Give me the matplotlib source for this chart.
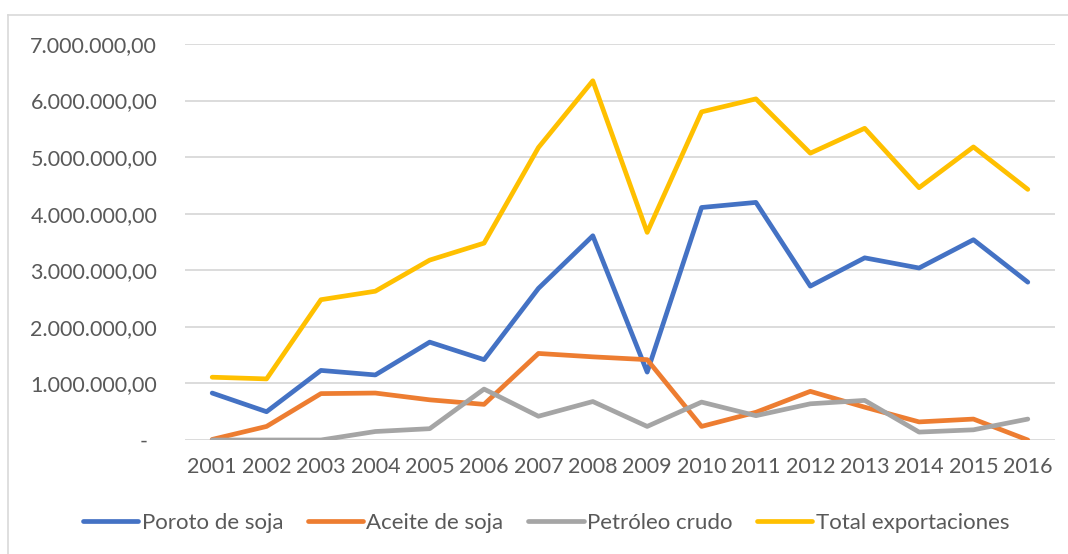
import matplotlib
matplotlib.use("Agg")
import matplotlib.pyplot as plt
from matplotlib.lines import Line2D
from matplotlib.transforms import ScaledTranslation

years = ["2001", "2002", "2003", "2004", "2005", "2006", "2007", "2008",
         "2009", "2010", "2011", "2012", "2013", "2014", "2015", "2016"]

poroto_soja = [830000, 500000, 1230000, 1150000, 1730000, 1420000, 2680000, 3610000,
               1200000, 4110000, 4200000, 2720000, 3220000, 3040000, 3540000, 2790000]
aceite_soja = [10000, 240000, 820000, 830000, 710000, 630000, 1530000, 1470000,
               1420000, 240000, 490000, 860000, 580000, 320000, 370000, 0]
petroleo_crudo = [0, 0, 0, 150000, 200000, 900000, 420000, 680000,
                  240000, 670000, 430000, 640000, 700000, 140000, 180000, 370000]
total_export = [1110000, 1080000, 2480000, 2630000, 3180000, 3480000, 5170000, 6350000,
                3670000, 5800000, 6030000, 5070000, 5510000, 4460000, 5180000, 4430000]

series_names = ["Poroto de soja", "Aceite de soja", "Petróleo crudo", "Total exportaciones"]
series_colors = ["#4472C4", "#ED7D31", "#A5A5A5", "#FFC000"]

ytick_vals = [0, 1000000, 2000000, 3000000, 4000000, 5000000, 6000000, 7000000]
ytick_labels = ["-", "1.000.000,00", "2.000.000,00", "3.000.000,00", "4.000.000,00",
                "5.000.000,00", "6.000.000,00", "7.000.000,00"]

plt.rcParams['font.family'] = ['Lato', 'DejaVu Sans']
text_color = "#595959"

fig = plt.figure(figsize=(10.68, 5.54), dpi=100)
ax = fig.add_axes([185/1068, 1 - 440/554, (1055-185)/1068, (440-44)/554])

x = list(range(len(years)))
for vals, name, col in zip([poroto_soja, aceite_soja, petroleo_crudo, total_export],
                           series_names, series_colors):
    ax.plot(x, vals, color=col, lw=3.4, solid_joinstyle='round',
            solid_capstyle='round', label=name, zorder=3)

ax.set_xlim(-0.5, len(years) - 0.5)
ax.set_ylim(0, 7000000)
ax.set_xticks(x)
ax.set_xticklabels(years)
ax.set_yticks(ytick_vals)
ax.set_yticklabels(ytick_labels)
ax.tick_params(axis='both', length=0, labelsize=15.5, colors=text_color)
ax.tick_params(axis='y', pad=20)
ax.tick_params(axis='x', pad=12)
ax.grid(axis='y', color='#D9D9D9', lw=1.3, zorder=0)
for s in ax.spines.values():
    s.set_visible(False)

# accounting-format dash sits left of the number column
zero_lbl = ax.get_yticklabels()[0]
zero_lbl.set_transform(zero_lbl.get_transform() +
                       ScaledTranslation(-10/100, 0, fig.dpi_scale_trans))

# outer chart border
fig.add_artist(Line2D([8/1068, 8/1068], [0, 1 - 15/554], transform=fig.transFigure,
                      color='#D9D9D9', lw=1.2))
fig.add_artist(Line2D([8/1068, 1], [1 - 15/554, 1 - 15/554], transform=fig.transFigure,
                      color='#D9D9D9', lw=1.2))

leg = fig.legend(loc='center', bbox_to_anchor=(546/1068, 1 - 523/554), ncol=4,
                 frameon=False, fontsize=16, handlelength=2.5, handletextpad=0.15,
                 columnspacing=1.1)
for t in leg.get_texts():
    t.set_color(text_color)

fig.savefig("out.png", dpi=100)
